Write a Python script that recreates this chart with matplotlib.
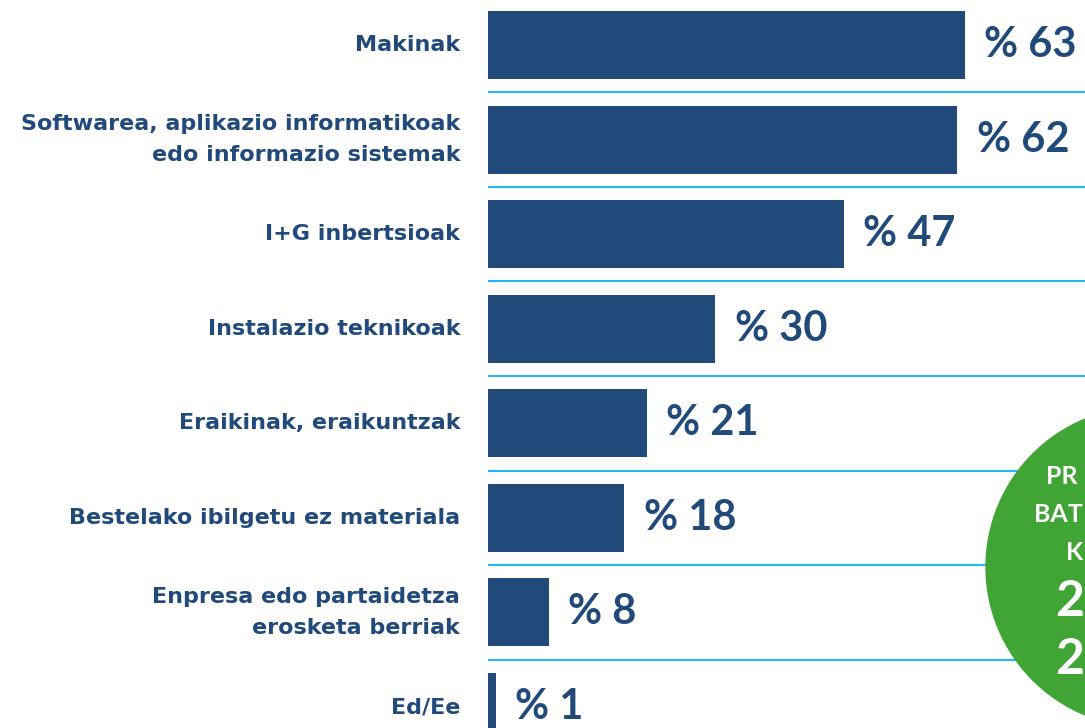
import matplotlib.pyplot as plt
from matplotlib.patches import Circle

categories = ["Makinak",
              "Softwarea, aplikazio informatikoak\nedo informazio sistemak",
              "I+G inbertsioak",
              "Instalazio teknikoak",
              "Eraikinak, eraikuntzak",
              "Bestelako ibilgetu ez materiala",
              "Enpresa edo partaidetza\nerosketa berriak",
              "Ed/Ee"]
values = [63, 62, 47, 30, 21, 18, 8, 1]

# visible (cut) part of the green badge text
badge_lines = ["PR", "BAT", "K"]
badge_big = ["2", "2"]

navy = "#214A7B"
sky = "#29B5F0"
green = "#41A535"

W, H = 1085, 728
fig = plt.figure(figsize=(W / 100, H / 100), dpi=100)

# bar area: starts at x=488 px, full height
ax = fig.add_axes([488 / W, 0, 1 - 488 / W, 1])
pitch = 94.6
ax.set_xlim(0, (W - 488) / 7.57)
ax.set_ylim(7 + (H - 707) / pitch, -45 / pitch)
ax.axis("off")

ypos = list(range(len(values)))
ax.barh(ypos, values, height=0.72, color=navy)
for i in range(len(values) - 1):
    ax.axhline(i + 0.5, color=sky, lw=1.5)

for y, v, c in zip(ypos, values, categories):
    ax.annotate("% " + str(v), (v, y), xytext=(14, 0), textcoords="offset points",
                ha="left", va="center", color=navy, fontsize=30, fontweight="bold",
                family="Lato")
    ax.annotate(c, (0, y), xytext=(-20, 0), textcoords="offset points",
                ha="right", va="center", color=navy, fontsize=16, fontweight="bold",
                family="DejaVu Sans", linespacing=1.65, annotation_clip=False)

# green badge on the right, mostly cut off
bg = fig.add_axes([0, 0, 1, 1])
bg.set_xlim(0, W)
bg.set_ylim(H, 0)
bg.axis("off")
bg.add_patch(Circle((1146, 567), 160, color=green, zorder=3))
for txt, xx, yy in zip(badge_lines, [1046, 1034, 1066], [477, 515, 553]):
    bg.text(xx, yy, txt, ha="left", va="center", color="white", fontsize=18,
            fontweight="bold", family="Lato", zorder=4)
for txt, yy in zip(badge_big, [602, 660]):
    bg.text(1055, yy, txt, ha="left", va="center", color="white", fontsize=36,
            fontweight="bold", family="Lato", zorder=4)

fig.savefig("out.png", dpi=100)
